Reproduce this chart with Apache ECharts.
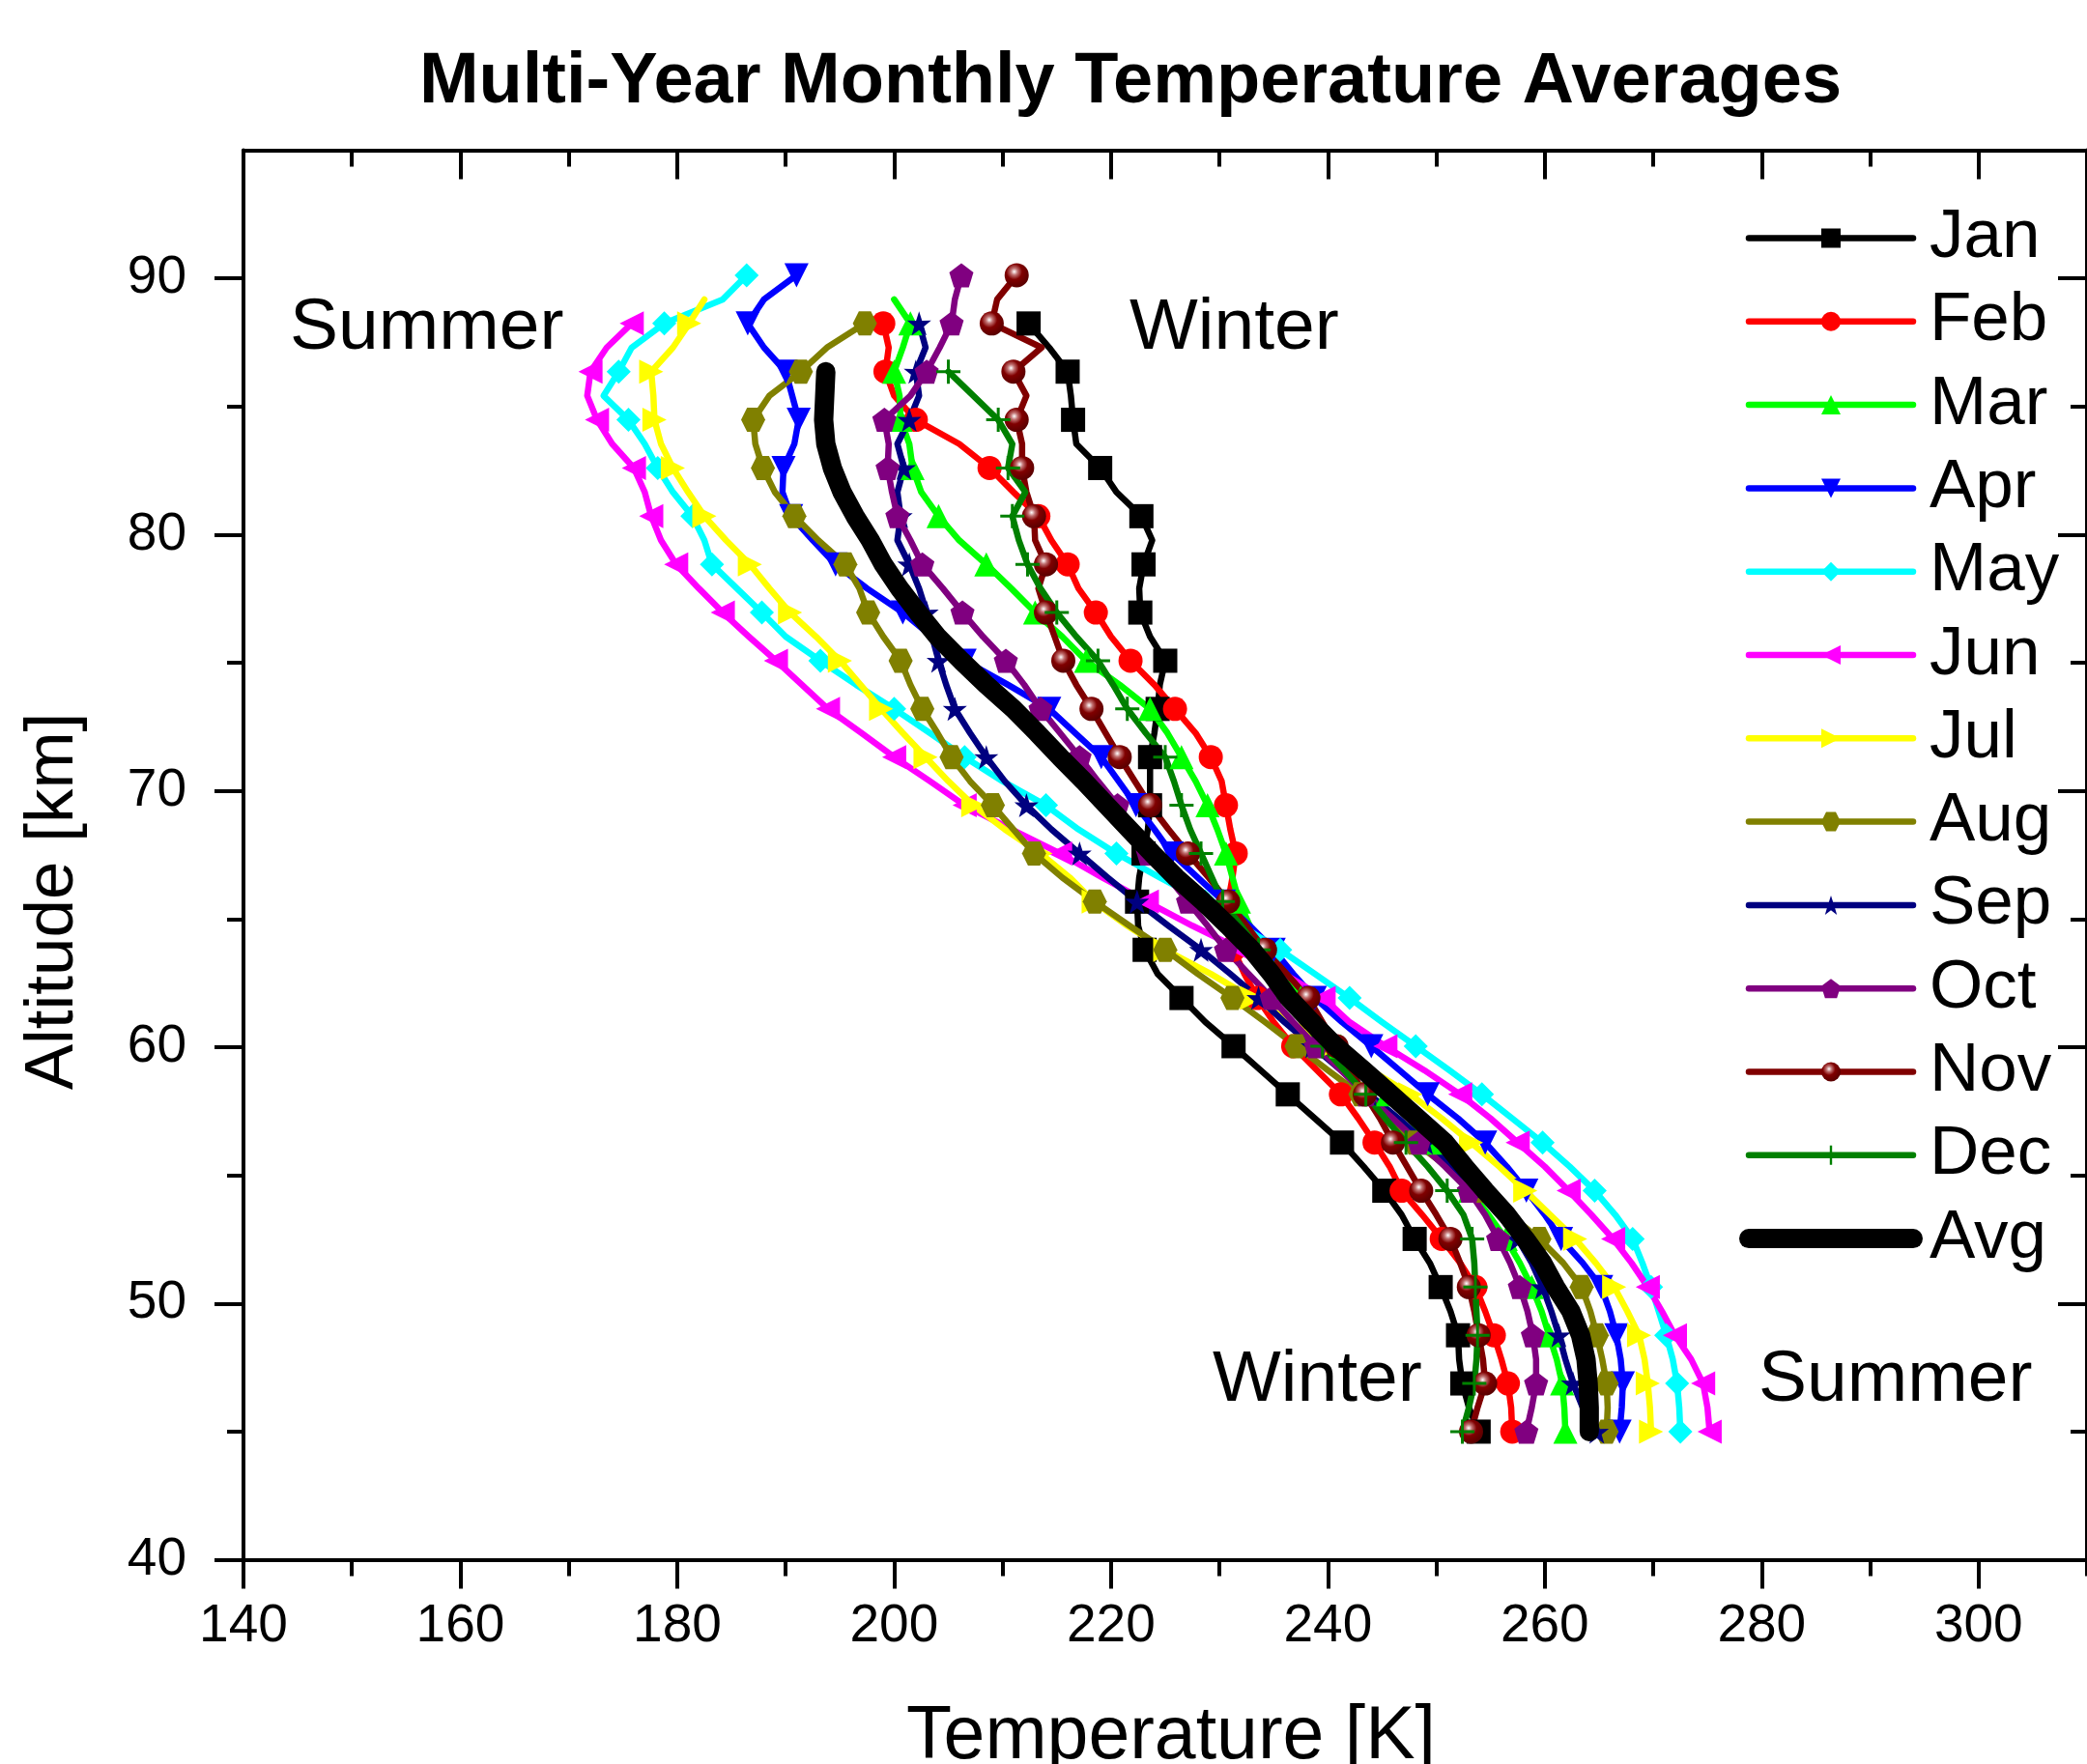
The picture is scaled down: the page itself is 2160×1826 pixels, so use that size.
<!DOCTYPE html>
<html><head><meta charset="utf-8">
<script src="https://cdn.jsdelivr.net/npm/echarts@6/dist/echarts.min.js"></script>
<style>html,body{margin:0;padding:0;background:#fff}#c{width:2160px;height:1826px}</style>
</head><body><div id="c"></div>
<script>
// Altitude grid [km]
const altitudes = [45.00,45.94,46.88,47.82,48.76,49.70,50.64,51.58,52.52,53.46,54.40,55.34,56.28,57.22,58.16,59.10,60.04,60.98,61.92,62.86,63.80,64.74,65.68,66.62,67.56,68.50,69.44,70.38,71.32,72.26,73.20,74.14,75.08,76.02,76.96,77.90,78.84,79.78,80.72,81.66,82.60,83.54,84.48,85.42,86.36,87.30,88.24,89.18,90.12];

// Temperatures [K]
const jan = [253.9,253.0,252.4,252.1,252.0,251.3,250.4,249.4,248.0,246.8,245.2,243.3,241.3,238.8,236.3,233.8,231.3,228.7,226.5,224.3,223.1,222.5,222.4,222.6,223.0,223.4,223.6,223.6,223.6,224.0,224.3,224.5,225.0,223.6,222.7,222.6,223.0,223.8,222.8,220.5,219.0,216.8,216.5,216.3,216.0,214.3,212.4,null,null];
const feb = [257.0,256.9,256.6,256.0,255.3,254.5,253.6,252.2,250.5,248.7,246.8,245.7,244.3,242.8,241.2,239.0,236.8,235.0,233.5,232.3,231.3,230.5,230.8,231.2,231.5,231.0,230.6,230.2,229.2,227.8,225.9,224.0,221.8,220.0,218.6,217.0,216.0,214.5,213.3,211.0,208.8,206.0,202.0,200.0,199.2,199.5,199.0,null,null];
const mar = [261.9,261.8,261.6,261.1,260.4,259.7,258.8,257.7,256.4,254.8,253.1,251.3,249.5,247.5,245.5,243.3,241.2,239.3,237.5,235.6,234.0,232.8,231.8,231.2,230.6,229.8,228.9,227.8,226.5,225.2,223.6,220.8,217.7,215.5,213.0,210.8,208.5,206.0,204.1,202.5,201.7,201.4,200.6,200.5,200.0,200.8,201.5,200.0,null];
const apr = [266.9,267.1,267.2,267.0,266.6,266.0,265.2,263.5,261.5,260.0,258.3,256.5,254.5,252.0,249.2,246.6,244.0,241.3,238.8,236.8,235.0,232.8,230.4,228.0,225.6,224.0,222.3,220.7,219.1,216.7,214.3,210.5,206.5,203.5,200.8,197.5,194.6,192.5,190.5,189.7,189.8,190.8,191.2,190.6,190.0,188.0,186.5,188.0,191.0];
const may = [272.5,272.4,272.2,271.8,271.2,270.5,269.8,269.0,268.1,266.5,264.6,262.3,259.8,257.0,254.2,251.2,248.1,245.0,242.0,238.8,235.6,232.0,228.7,224.5,220.5,217.0,214.0,210.0,206.5,203.3,200.0,196.5,193.2,190.0,187.8,185.5,183.2,182.5,181.4,179.6,178.2,177.0,175.5,173.2,174.6,175.8,178.8,184.2,186.4];
const jun = [275.2,275.0,274.6,273.5,272.0,270.8,269.5,268.0,266.3,264.3,262.2,260.0,257.5,255.0,252.2,248.9,245.3,242.0,239.6,236.0,232.0,227.5,223.3,219.2,215.3,210.8,206.5,203.3,200.0,197.0,193.9,191.5,189.1,186.6,184.2,182.0,179.9,178.5,177.6,177.0,176.0,174.0,172.6,171.7,172.0,173.5,175.8,null,null];
const jul = [269.8,269.7,269.5,269.2,268.7,267.6,266.4,264.7,262.8,260.5,258.2,255.8,253.2,250.5,247.6,244.0,240.3,236.6,233.0,229.2,225.0,221.5,218.4,216.2,213.5,210.2,207.3,205.0,202.9,200.8,198.8,196.9,195.0,192.8,190.4,188.5,186.7,184.5,182.5,181.0,179.6,178.5,177.9,177.8,177.6,179.6,181.1,182.5,null];
const aug = [265.7,265.8,265.7,265.3,264.8,264.2,263.4,261.7,259.5,256.8,254.0,251.0,248.0,245.5,243.0,240.0,237.1,234.2,231.2,228.0,225.0,221.7,218.5,215.5,212.9,211.0,209.1,207.0,205.3,204.0,202.6,201.5,200.6,199.0,197.6,196.8,195.5,193.0,190.8,189.0,187.9,187.2,187.0,188.5,191.4,193.8,197.3,null,null];
const sep = [264.8,263.5,262.6,261.9,261.3,260.6,259.8,258.8,257.5,255.8,253.9,251.5,249.0,246.5,243.8,241.2,238.6,236.0,233.6,231.0,228.3,225.3,222.4,219.7,217.1,214.5,212.2,210.2,208.5,207.0,205.6,204.8,204.1,203.5,203.0,202.3,201.4,200.3,200.6,200.3,200.9,200.3,201.4,202.3,202.0,202.9,202.3,null,null];
const oct = [258.3,258.8,259.2,259.2,258.9,258.4,257.7,256.8,255.7,254.5,253.0,250.8,248.4,246.0,243.5,241.2,238.9,236.8,234.8,232.7,230.6,228.9,227.1,225.3,223.4,222.0,220.6,218.8,217.1,215.3,213.5,212.0,210.3,208.2,206.3,204.5,202.6,201.5,200.3,199.8,199.4,199.5,199.1,201.5,203.0,204.2,205.3,205.6,206.2];
const nov = [253.2,253.8,254.5,254.3,253.9,253.5,253.0,252.2,251.3,250.0,248.6,247.3,246.0,244.8,243.4,242.1,240.8,239.5,238.2,236.2,234.2,232.5,230.8,229.0,227.1,225.3,223.6,222.2,220.8,219.5,218.2,216.8,215.6,214.8,214.0,213.3,214.0,213.0,212.9,212.2,211.8,211.8,211.3,212.2,211.0,213.6,209.0,209.5,211.3];
const dec = [252.4,253.0,253.5,253.7,253.8,253.7,253.6,253.5,253.3,252.5,251.0,249.2,247.2,245.3,243.5,241.5,239.5,237.9,236.4,235.0,233.6,232.0,230.3,229.3,228.3,227.3,226.5,225.8,225.0,223.2,221.5,220.2,218.8,216.8,215.0,213.5,212.3,211.5,210.9,212.1,210.5,210.9,209.6,207.3,205.0,null,null,null,null];
const avg = [264.1,264.1,264.0,263.8,263.3,262.4,261.0,259.8,258.2,256.5,254.5,252.6,250.8,248.3,245.8,243.3,240.7,238.5,236.4,234.8,233.0,230.8,228.5,226.0,223.8,221.7,219.6,217.5,215.3,213.2,211.0,208.5,206.2,204.0,202.2,200.5,199.0,197.8,196.4,195.2,194.3,193.7,193.5,193.6,193.7,null,null,null,null];

const monthNames = ['Jan','Feb','Mar','Apr','May','Jun','Jul','Aug','Sep','Oct','Nov','Dec','Avg'];
const xMajorTicks = [140,160,180,200,220,240,260,280,300];
const xMinorTicks = [150,170,190,210,230,250,270,290,310];
const yMajorTicks = [40,50,60,70,80,90];
const yMinorTicks = [45,55,65,75,85];

const FONT = "'Liberation Sans', Arial, sans-serif";
const starPath = 'path://M50,0 L61.8,35.4 L97.6,34.5 L69,56.5 L79.4,90.5 L50,70 L20.6,90.5 L31,56.5 L2.4,34.5 L38.2,35.4 Z';
const pentPath = 'path://M50,0 L100,38 L81,100 L19,100 L0,38 Z';
const hexPath = 'path://M0,50 L25,8 L75,8 L100,50 L75,92 L25,92 Z';
const plusPath = 'path://M44,0 L56,0 L56,44 L100,44 L100,56 L56,56 L56,100 L44,100 L44,56 L0,56 L0,44 L44,44 Z';
const sphere = {type:'radial', x:0.4, y:0.35, r:0.65, colorStops:[
  {offset:0, color:'#ffffff'},{offset:0.22, color:'#c07070'},{offset:0.5, color:'#800000'},{offset:1, color:'#5a0000'}]};

const styles = [
  {color:'#000000', symbol:'rect'},
  {color:'#ff0000', symbol:'circle'},
  {color:'#00ff00', symbol:'triangle'},
  {color:'#0000ff', symbol:'triangle', rot:180},
  {color:'#00ffff', symbol:'diamond'},
  {color:'#ff00ff', symbol:'triangle', rot:90},
  {color:'#ffff00', symbol:'triangle', rot:-90},
  {color:'#808000', symbol:hexPath},
  {color:'#000080', symbol:starPath},
  {color:'#800080', symbol:pentPath},
  {color:'#800000', symbol:'circle', fill:sphere},
  {color:'#008000', symbol:plusPath}
];
const monthData = [jan,feb,mar,apr,may,jun,jul,aug,sep,oct,nov,dec];

function toPairs(vals){
  return vals.map((v,i)=>[v, altitudes[i]]).filter(d=>d[0]!==null);
}

const series = monthData.map((vals,k)=>({
  name: monthNames[k],
  type: 'line',
  xAxisIndex: 0, yAxisIndex: 0,
  data: toPairs(vals),
  symbol: styles[k].symbol,
  symbolRotate: styles[k].rot || 0,
  symbolSize: (v, p) => (p.dataIndex % 2 === 0 ? 25 : 0),
  showSymbol: true,
  itemStyle: {color: styles[k].fill || styles[k].color, borderWidth: 0},
  lineStyle: {color: styles[k].color, width: 6.5, cap: 'round', join: 'round'},
  emphasis: {disabled: true},
  animation: false,
  z: 2
}));
series.push({
  name: 'Avg', type: 'line', xAxisIndex: 0, yAxisIndex: 0,
  data: toPairs(avg), symbol: 'none', showSymbol: false,
  itemStyle: {color: '#000'},
  lineStyle: {color: '#000', width: 20, cap: 'round', join: 'round'},
  emphasis: {disabled: true}, animation: false, z: 3
});

const lineS = {color:'#000', width:4};
function xAx(pos, ticks, len, inside, showLine, labels){
  return {type:'value', min:140, max:310, interval: len>20?20:10, position:pos, gridIndex:0,
    axisLine:{show:showLine, onZero:false, lineStyle:lineS},
    axisTick:{show:true, customValues:ticks, length:len, inside:inside, lineStyle:{color:'#000', width:4}},
    axisLabel: labels ? {show:true, customValues:ticks, fontSize:55, fontFamily:FONT, color:'#000', margin:42} : {show:false},
    splitLine:{show:false}, minorTick:{show:false}};
}
function yAx(pos, ticks, len, inside, showLine, labels){
  return {type:'value', min:40, max:95, interval: len>20?10:5, position:pos, gridIndex:0,
    axisLine:{show:showLine, onZero:false, lineStyle:lineS},
    axisTick:{show:true, customValues:ticks, length:len, inside:inside, lineStyle:{color:'#000', width:4}},
    axisLabel: labels ? {show:true, customValues:ticks, fontSize:55, fontFamily:FONT, color:'#000', margin:59} : {show:false},
    splitLine:{show:false}, minorTick:{show:false}};
}

const chart = echarts.init(document.getElementById('c'), null, {renderer:'canvas'});
chart.setOption({
  backgroundColor: '#ffffff',
  animation: false,
  grid: {left:252, right:-14, top:155.5, bottom:211.4, containLabel:false},
  xAxis: [
    xAx('bottom', xMajorTicks, 30, false, true, true),
    xAx('bottom', xMinorTicks, 17, false, false, false),
    xAx('top', xMajorTicks, 30, true, true, false),
    xAx('top', xMinorTicks, 17, true, false, false)
  ],
  yAxis: [
    yAx('left', yMajorTicks, 30, false, true, true),
    yAx('left', yMinorTicks, 17, false, false, false),
    yAx('right', yMajorTicks, 30, true, true, false),
    yAx('right', yMinorTicks, 17, true, false, false)
  ],
  legend: {
    data: monthNames, orient:'vertical', left:1800, top:211, padding:0,
    itemWidth:170, itemHeight:25, itemGap:15.3, selectedMode:false,
    textStyle:{fontSize:71, fontFamily:FONT, color:'#000', lineHeight:70, padding:[0,0,0,12]},
    lineStyle:{width:'inherit', cap:'round'}
  },
  graphic: [
    {type:'text', x:1170, y:86, style:{text:'Multi-Year Monthly Temperature Averages', font:"bold 74px "+FONT, fill:'#000', align:'center', verticalAlign:'middle'}},
    {type:'text', x:300, y:340, style:{text:'Summer', font:"75px "+FONT, fill:'#000', align:'left', verticalAlign:'middle'}},
    {type:'text', x:1169, y:340, style:{text:'Winter', font:"75px "+FONT, fill:'#000', align:'left', verticalAlign:'middle'}},
    {type:'text', x:1255, y:1429, style:{text:'Winter', font:"75px "+FONT, fill:'#000', align:'left', verticalAlign:'middle'}},
    {type:'text', x:1820, y:1429, style:{text:'Summer', font:"75px "+FONT, fill:'#000', align:'left', verticalAlign:'middle'}},
    {type:'text', x:1212, y:1799, style:{text:'Temperature [K]', font:"77px "+FONT, fill:'#000', align:'center', verticalAlign:'middle'}},
    {type:'text', x:55, y:933, rotation:Math.PI/2, style:{text:'Altitude [km]', font:"71px "+FONT, fill:'#000', align:'center', verticalAlign:'middle'}}
  ],
  series: series
});
</script>
</body></html>
